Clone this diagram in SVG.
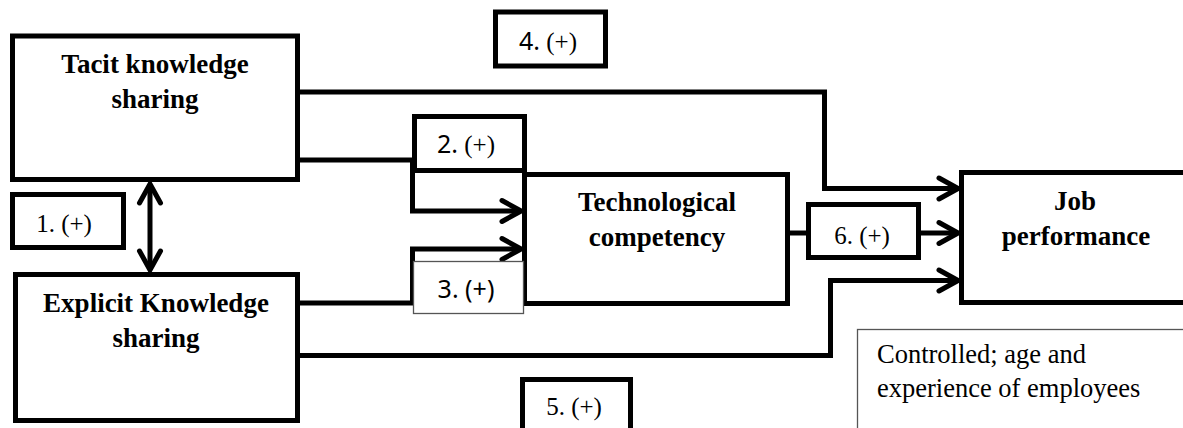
<svg xmlns="http://www.w3.org/2000/svg" width="1183" height="428" viewBox="0 0 1183 428">
  <style>
    .box { fill: #fff; stroke: #000; stroke-width: 5; }
    .thin { fill: #fff; stroke: #555; stroke-width: 1.3; }
    .wire { fill: none; stroke: #000; stroke-width: 5; stroke-linejoin: miter; }
    .title { font-family: "Liberation Serif", "Times New Roman", serif; font-weight: bold; font-size: 27px; text-anchor: middle; fill: #000; }
    .lbl { font-family: "Liberation Serif", "Times New Roman", serif; font-size: 25px; text-anchor: middle; fill: #000; }
    .sans { font-family: "Noto Sans", "Liberation Sans", sans-serif; }
    .note { font-family: "Liberation Serif", "Times New Roman", serif; font-size: 26.5px; fill: #000; }
  </style>
  <defs>
    <marker id="chev" viewBox="-24 -14 28 28" markerWidth="28" markerHeight="28" refX="0" refY="0" markerUnits="userSpaceOnUse" orient="auto-start-reverse">
      <path d="M-19,-10.5 L0,0 L-19,10.5" fill="none" stroke="#000" stroke-width="5" stroke-linecap="round" stroke-linejoin="miter"/>
    </marker>
  </defs>

  <rect width="1183" height="428" fill="#fff"/>

  <!-- main constructs -->
  <g id="tacit">
    <rect class="box" x="12.5" y="36" width="285" height="143.5"/>
    <text class="title" x="155" y="73">Tacit knowledge</text>
    <text class="title" x="155" y="108">sharing</text>
  </g>
  <g id="explicit">
    <rect class="box" x="15.5" y="274.5" width="282" height="146"/>
    <text class="title" x="156" y="312">Explicit Knowledge</text>
    <text class="title" x="156" y="347">sharing</text>
  </g>
  <g id="tech">
    <rect class="box" x="524.5" y="174.5" width="263" height="129"/>
    <text class="title" x="657" y="211">Technological</text>
    <text class="title" x="657" y="246">competency</text>
  </g>
  <g id="job">
    <rect class="box" x="961.5" y="172.5" width="240" height="130"/>
    <text class="title" x="1075" y="210">Job</text>
    <text class="title" x="1076" y="245">performance</text>
  </g>

  <!-- connectors -->
  <g id="connectors">
    <path class="wire" d="M150,184 L150,270" marker-start="url(#chev)" marker-end="url(#chev)"/>
    <path class="wire" d="M297.5,160 L412.5,160 L412.5,211 L521,211" marker-end="url(#chev)"/>
    <path class="wire" d="M297.5,303 L412.5,303 L412.5,249 L521,249" marker-end="url(#chev)"/>
    <path class="wire" d="M297.5,92 L824.5,92 L824.5,188.5 L958,188.5" marker-end="url(#chev)"/>
    <path class="wire" d="M297.5,355.5 L830.5,355.5 L830.5,280.5 L958,280.5" marker-end="url(#chev)"/>
    <path class="wire" d="M787,233 L808,233"/>
    <path class="wire" d="M918,233 L958,233" marker-end="url(#chev)"/>
  </g>

  <!-- path coefficient labels -->
  <g id="label1">
    <rect class="box" x="12.5" y="194.5" width="111" height="53"/>
    <text class="lbl" x="64" y="232">1. (+)</text>
  </g>
  <g id="label2">
    <rect class="box" x="414.5" y="116.5" width="110" height="54"/>
    <text class="lbl" x="466" y="153"><tspan class="sans">2.</tspan> (+)</text>
  </g>
  <g id="label3">
    <rect class="thin" x="413.5" y="261.5" width="110" height="52"/>
    <text class="lbl sans" x="466" y="298">3. (+)</text>
  </g>
  <g id="label4">
    <rect class="box" x="495.5" y="12" width="110" height="54"/>
    <text class="lbl" x="548" y="50"><tspan class="sans">4.</tspan> (+)</text>
  </g>
  <g id="label5">
    <rect class="box" x="522.5" y="379.5" width="108" height="60"/>
    <text class="lbl" x="574" y="415">5. (+)</text>
  </g>
  <g id="label6">
    <rect class="box" x="808.5" y="204.5" width="110" height="53"/>
    <text class="lbl" x="862" y="244">6. (+)</text>
  </g>

  <!-- control variables note -->
  <g id="controls">
    <rect class="thin" x="857.5" y="329.5" width="340" height="110"/>
    <text class="note" x="877" y="363">Controlled; age and</text>
    <text class="note" x="877" y="397">experience of employees</text>
  </g>
</svg>
